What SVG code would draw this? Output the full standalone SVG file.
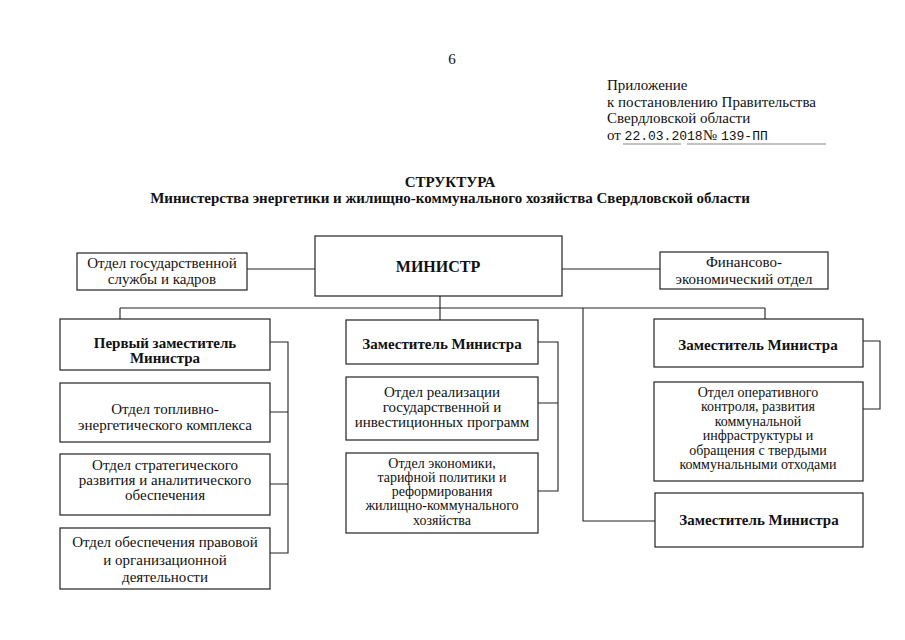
<svg xmlns="http://www.w3.org/2000/svg" width="905" height="640" viewBox="0 0 905 640">
<style>
text{font-family:'Liberation Serif','DejaVu Serif',serif;font-size:15px;fill:#111;}
.c{text-anchor:middle;}
.b{font-weight:bold;}
.m{font-family:'Liberation Mono','DejaVu Sans Mono',monospace;font-size:13px;}
.s{font-size:14px;}
.box{fill:#fff;stroke:#222;stroke-width:1.2;}
.ln{fill:none;stroke:#222;stroke-width:1.1;}
.ul{stroke:#888;stroke-width:1.2;}
</style>
<rect width="905" height="640" fill="#fff"/>
<g id="header">
<text x="452" y="64" class="c">6</text>
<text x="607" y="90">Приложение</text>
<text x="607" y="107">к постановлению Правительства</text>
<text x="607" y="123">Свердловской области</text>
<text x="607" y="140">от <tspan class="m">22.03.2018</tspan>№<tspan class="m" dx="4">139-ПП</tspan></text>
<line class="ul" x1="623" y1="144" x2="681" y2="144"/>
<line class="ul" x1="687" y1="144" x2="826" y2="144"/>
<text x="450" y="187" class="c b">СТРУКТУРА</text>
<text x="450" y="203" class="c b">Министерства энергетики и жилищно-коммунального хозяйства Свердловской области</text>
</g>
<g id="connectors">
<path class="ln" d="M247 269H315M562 269H660M440 296V308M120 308H765M120 308V319M440 308V320M765 308V319M583 308V521H655"/>
<path class="ln" d="M270 342H288V553H270M270 412H288M270 484H288"/>
<path class="ln" d="M538 342H558V491H538M538 403H558"/>
<path class="ln" d="M863 341H880V409H863"/>
</g>
<g id="minister">
<rect class="box" x="315" y="236" width="247" height="60"/>
<text x="438" y="272" class="c b" style="font-size:16px">МИНИСТР</text>
</g>
<g id="hr">
<rect class="box" x="77" y="253" width="170" height="37"/>
<text x="162" y="268" class="c">Отдел государственной</text>
<text x="162" y="284" class="c">службы и кадров</text>
</g>
<g id="fin">
<rect class="box" x="660" y="252" width="168" height="37"/>
<text x="744" y="267" class="c">Финансово-</text>
<text x="744" y="284" class="c">экономический отдел</text>
</g>
<g id="dep1">
<rect class="box" x="60" y="319" width="210" height="51"/>
<text x="165" y="348" class="c b">Первый заместитель</text>
<text x="165" y="363" class="c b">Министра</text>
</g>
<g id="d11">
<rect class="box" x="60" y="383" width="210" height="59"/>
<text x="165" y="414" class="c">Отдел топливно-</text>
<text x="165" y="430" class="c">энергетического комплекса</text>
</g>
<g id="d12">
<rect class="box" x="60" y="454" width="210" height="61"/>
<text x="165" y="470" class="c">Отдел стратегического</text>
<text x="165" y="485" class="c">развития и аналитического</text>
<text x="165" y="500" class="c">обеспечения</text>
</g>
<g id="d13">
<rect class="box" x="60" y="528" width="210" height="61"/>
<text x="165" y="547" class="c">Отдел обеспечения правовой</text>
<text x="165" y="565" class="c">и организационной</text>
<text x="165" y="582" class="c">деятельности</text>
</g>
<g id="dep2">
<rect class="box" x="346" y="320" width="192" height="44"/>
<text x="442" y="349" class="c b">Заместитель Министра</text>
</g>
<g id="d21">
<rect class="box" x="346" y="377" width="192" height="63"/>
<text x="442" y="397" class="c">Отдел реализации</text>
<text x="442" y="412" class="c">государственной и</text>
<text x="442" y="427" class="c">инвестиционных программ</text>
</g>
<g id="d22" class="s">
<rect class="box" x="346" y="453" width="192" height="80"/>
<text x="442" y="468" class="c s">Отдел экономики,</text>
<text x="442" y="482" class="c s">тарифной политики и</text>
<text x="442" y="496" class="c s">реформирования</text>
<text x="442" y="510" class="c s">жилищно-коммунального</text>
<text x="442" y="525" class="c s">хозяйства</text>
</g>
<g id="dep3">
<rect class="box" x="654" y="319" width="209" height="48"/>
<text x="758" y="350" class="c b">Заместитель Министра</text>
</g>
<g id="d31">
<rect class="box" x="654" y="382" width="209" height="99"/>
<text x="758" y="397" class="c s">Отдел оперативного</text>
<text x="758" y="411" class="c s">контроля, развития</text>
<text x="758" y="426" class="c s">коммунальной</text>
<text x="758" y="440" class="c s">инфраструктуры и</text>
<text x="758" y="455" class="c s">обращения с твердыми</text>
<text x="758" y="469" class="c s">коммунальными отходами</text>
</g>
<g id="dep4">
<rect class="box" x="655" y="493" width="208" height="54"/>
<text x="759" y="525" class="c b">Заместитель Министра</text>
</g>
</svg>
